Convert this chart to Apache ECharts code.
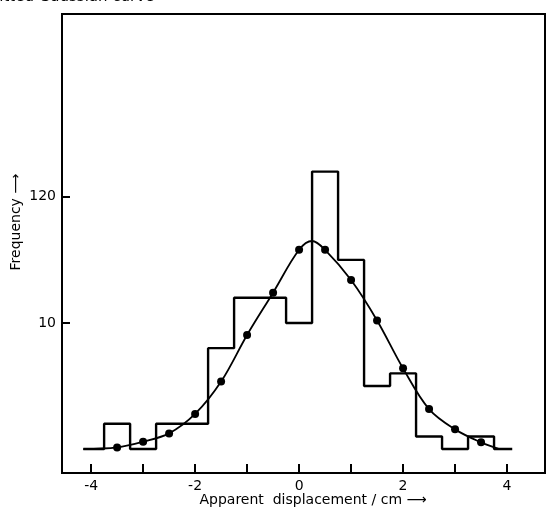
<!DOCTYPE html>
<html>
<head>
<meta charset="utf-8">
<script src="https://cdn.jsdelivr.net/npm/echarts@6/dist/echarts.min.js"></script>
<style>
html,body{margin:0;padding:0;background:#fff;}
#chart{width:548px;height:511px;}
</style>
</head>
<body>
<div id="chart"></div>
<script>
// Histogram (bin left edges start at -3.75, width 0.5)
var binStart = -3.75;
var binWidth = 0.5;
var binCounts = [2, 0, 2, 2, 8, 12, 12, 10, 22, 15, 5, 6, 1, 0, 1];
var histLeftEnd = -4.15;
var histRightEnd = 4.1;

// Fitted Gaussian curve: dots
var dotX = [-3.5, -3.0, -2.5, -2.0, -1.5, -1.0, -0.5, 0.0, 0.5, 1.0, 1.5, 2.0, 2.5, 3.0, 3.5];
var dotY = [0.13, 0.58, 1.24, 2.78, 5.35, 9.05, 12.4, 15.8, 15.8, 13.4, 10.2, 6.4, 3.17, 1.56, 0.53];
// Curve through dots, with ends and peak
var curveX = [-4.15, -3.5, -3.0, -2.5, -2.0, -1.5, -1.0, -0.5, 0.0, 0.25, 0.5, 1.0, 1.5, 2.0, 2.5, 3.0, 3.5, 3.85];
var curveY = [0.0, 0.13, 0.58, 1.24, 2.78, 5.35, 9.05, 12.4, 15.8, 16.5, 15.8, 13.4, 10.2, 6.4, 3.17, 1.56, 0.53, 0.0];

// Axis ticks and labels
var xTickValues = [-4, -3, -2, -1, 0, 1, 2, 3, 4];
var xLabelValues = [-4, -2, 0, 2, 4];
var xLabelTexts = ['-4', '-2', '0', '2', '4'];
var yTickValues = [10, 20];
var yLabelTexts = ['10', '120'];

var histData = [[histLeftEnd, 0], [binStart, 0]];
for (var i = 0; i < binCounts.length; i++) {
  var l = binStart + i * binWidth, r = l + binWidth;
  histData.push([l, binCounts[i]]);
  histData.push([r, binCounts[i]]);
}
histData.push([binStart + binCounts.length * binWidth, 0]);
histData.push([histRightEnd, 0]);

var curveData = curveX.map(function (x, i) { return [x, curveY[i]]; });
var dotData = dotX.map(function (x, i) { return [x, dotY[i]]; });

var FONT = 'DejaVu Sans';
var chart = echarts.init(document.getElementById('chart'), null, {renderer: 'canvas'});
chart.setOption({
  animation: false,
  backgroundColor: '#fff',
  grid: {left: 62, right: 3, top: 14, bottom: 38, show: true, borderColor: '#000', borderWidth: 2, backgroundColor: 'transparent'},
  xAxis: {
    type: 'value', min: -4.56, max: 4.73,
    splitLine: {show: false},
    axisLine: {show: true, onZero: false, lineStyle: {color: '#000', width: 2}},
    axisTick: {show: true, inside: true, length: 9, customValues: xTickValues, lineStyle: {color: '#000', width: 2}},
    axisLabel: {show: true, customValues: xLabelValues, color: '#000', fontFamily: FONT, fontSize: 14, margin: 6,
      formatter: function (v) { var k = xLabelValues.indexOf(v); return k >= 0 ? xLabelTexts[k] : ''; }}
  },
  yAxis: {
    type: 'value', min: -1.9, max: 34.5,
    splitLine: {show: false},
    axisLine: {show: true, onZero: false, lineStyle: {color: '#000', width: 2}},
    axisTick: {show: true, inside: true, length: 8, customValues: yTickValues, lineStyle: {color: '#000', width: 2}},
    axisLabel: {show: true, customValues: yTickValues, color: '#000', fontFamily: FONT, fontSize: 14, margin: 6,
      formatter: function (v) { var k = yTickValues.indexOf(v); return k >= 0 ? yLabelTexts[k] : ''; }}
  },
  series: [
    {type: 'line', data: histData, symbol: 'none', lineStyle: {color: '#000', width: 2.4}, z: 2},
    {type: 'line', data: curveData, symbol: 'none', smooth: 0.35, lineStyle: {color: '#000', width: 1.8}, z: 3},
    {type: 'scatter', data: dotData, symbol: 'circle', symbolSize: 8, itemStyle: {color: '#000', opacity: 1}, z: 4}
  ],
  graphic: [
    {type: 'text', left: -6, top: -10, style: {text: 'fitted Gaussian curve', font: '15px DejaVu Sans', fill: '#000'}},
    {type: 'text', x: 313, y: 500, style: {text: 'Apparent  displacement / cm \u27F6', font: '14px DejaVu Sans', fill: '#000', textAlign: 'center', textVerticalAlign: 'middle'}},
    {type: 'text', x: 16, y: 222, rotation: Math.PI / 2, style: {text: 'Frequency \u27F6', font: '14px DejaVu Sans', fill: '#000', textAlign: 'center', textVerticalAlign: 'middle'}}
  ]
});
</script>
</body>
</html>
